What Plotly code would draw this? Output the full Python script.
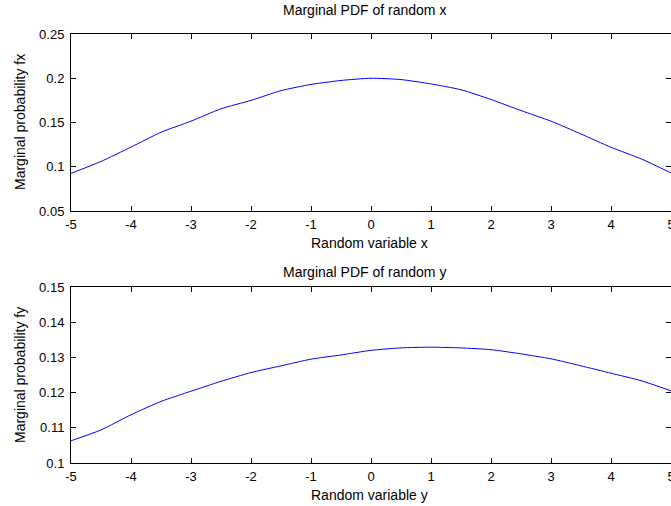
import plotly.graph_objects as go

x_vals = [-5, -4.5, -4, -3.5, -3, -2.5, -2, -1.5, -1, -0.5, 0, 0.5, 1, 1.5, 2, 2.5, 3, 3.5, 4, 4.5, 5]
fx_vals = [0.0925, 0.106, 0.1222, 0.139, 0.1515, 0.1655, 0.175, 0.186, 0.193, 0.1975, 0.2,
           0.1985, 0.1936, 0.187, 0.176, 0.1635, 0.1515, 0.137, 0.122, 0.109, 0.093]
y_vals = x_vals
fy_vals = [0.1063, 0.1094, 0.1137, 0.1175, 0.1204, 0.1232, 0.1257, 0.1276, 0.1295, 0.1307, 0.132,
           0.1327, 0.1329, 0.1327, 0.1322, 0.131, 0.1296, 0.1276, 0.1255, 0.1234, 0.1205]
x_ticks = [-5, -4, -3, -2, -1, 0, 1, 2, 3, 4, 5]
x_ticktext = ["-5", "-4", "-3", "-2", "-1", "0", "1", "2", "3", "4", "5"]
fx_ticks = [0.05, 0.1, 0.15, 0.2, 0.25]
fx_ticktext = ["0.05", "0.1", "0.15", "0.2", "0.25"]
fy_ticks = [0.1, 0.11, 0.12, 0.13, 0.14, 0.15]
fy_ticktext = ["0.1", "0.11", "0.12", "0.13", "0.14", "0.15"]

W, H = 671, 506
FONT = "Liberation Sans, Arial, sans-serif"

fig = go.Figure()
fig.add_trace(go.Scatter(x=x_vals, y=fx_vals, mode="lines",
                         line=dict(color="#0000FF", width=1, shape="spline", smoothing=0.6),
                         xaxis="x", yaxis="y", showlegend=False))
fig.add_trace(go.Scatter(x=y_vals, y=fy_vals, mode="lines",
                         line=dict(color="#0000FF", width=1, shape="spline", smoothing=0.6),
                         xaxis="x2", yaxis="y2", showlegend=False))

xdom = [71 / W, 1.0]
dom1 = [1 - 211 / H, 1 - 34 / H]
dom2 = [1 - 463 / H, 1 - 287 / H]

ax_common = dict(showline=True, linecolor="black", linewidth=1, mirror="ticks", ticks="inside",
                 ticklen=5, tickcolor="black", showgrid=False, zeroline=False, automargin=False,
                 ticklabeloverflow="allow",
                 tickfont=dict(family=FONT, size=13, color="black"))
xa = dict(ticklabelstandoff=1, **ax_common)
ya = dict(ticklabelstandoff=3, **ax_common)

fig.update_layout(
    width=W, height=H, margin=dict(l=0, r=0, t=0, b=0),
    paper_bgcolor="white", plot_bgcolor="white",
    xaxis=dict(domain=xdom, anchor="y", range=[-5, 5], tickvals=x_ticks, ticktext=x_ticktext, **xa),
    yaxis=dict(domain=dom1, anchor="x", range=[0.05, 0.25], tickvals=fx_ticks, ticktext=fx_ticktext, **ya),
    xaxis2=dict(domain=xdom, anchor="y2", range=[-5, 5], tickvals=x_ticks, ticktext=x_ticktext, **xa),
    yaxis2=dict(domain=dom2, anchor="x2", range=[0.1, 0.15], tickvals=fy_ticks, ticktext=fy_ticktext, **ya),
)

def ann(text, x, y, angle=0, size=14):
    fig.add_annotation(text=text, x=x / W, y=1 - y / H, xref="paper", yref="paper",
                       showarrow=False, textangle=angle, xanchor="center", yanchor="middle",
                       font=dict(family=FONT, size=size, color="black"))

ann("Marginal PDF of random x", 364, 10)
ann("Random variable x", 369, 243)
ann("Marginal probability fx", 20, 122, -90)
ann("Marginal PDF of random y", 364, 272)
ann("Random variable y", 369, 495)
ann("Marginal probability fy", 20, 375, -90)

fig.write_html("out.html", config={"displayModeBar": False},
               post_script="document.body.style.margin='0';document.documentElement.style.overflow='hidden';")
